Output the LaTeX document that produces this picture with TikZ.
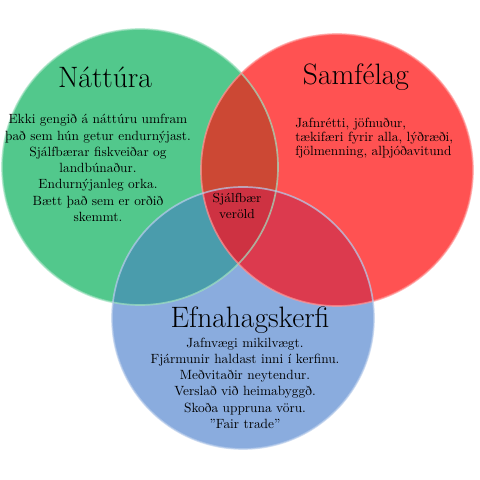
\documentclass[tikz,border=0pt]{standalone}
\usepackage{fontspec}
\usepackage{tikz}
\usetikzlibrary{positioning}

\definecolor{natgreen}{RGB}{82,200,140}
\definecolor{samred}{RGB}{255,82,82}
\definecolor{efnblue}{RGB}{138,172,222}
\definecolor{natsam}{RGB}{204,72,52}
\definecolor{natefn}{RGB}{74,156,172}
\definecolor{samefn}{RGB}{220,58,78}
\definecolor{allthree}{RGB}{206,50,66}

\begin{document}
\begin{tikzpicture}[
    circtitle/.style={font=\fontsize{21}{25}\selectfont, inner sep=0pt},
    circtext/.style={font=\fontsize{9.5}{11.6}\selectfont, align=center, inner sep=0pt},
    rim/.style={line width=1.2pt, draw opacity=0.7}
]
    \useasboundingbox (0,0) rectangle (12,12);

    % circle centres
    \coordinate (natc) at (3.5,7.825);
    \coordinate (samc) at (8.425,7.75);
    \coordinate (efnc) at (6.075,4.05);

    % base discs
    \fill[natgreen] (natc) circle (3.45);
    \fill[samred] (samc) circle (3.4);
    \fill[efnblue] (efnc) circle (3.275);

    % overlaps
    \begin{scope}
        \clip (natc) circle (3.45);
        \fill[natsam] (samc) circle (3.4);
        \fill[natefn] (efnc) circle (3.275);
    \end{scope}
    \begin{scope}
        \clip (samc) circle (3.4);
        \fill[samefn] (efnc) circle (3.275);
    \end{scope}
    \begin{scope}
        \clip (natc) circle (3.45);
        \clip (samc) circle (3.4);
        \fill[allthree] (efnc) circle (3.275);
    \end{scope}

    % rims
    \draw[rim, natgreen!55!white] (natc) circle (3.45);
    \draw[rim, samred!60!white] (samc) circle (3.4);
    \draw[rim, efnblue!60!white] (efnc) circle (3.275);

    % titles
    \node[circtitle] (nattitle) at (2.625,10.075) {Náttúra};
    \node[circtitle] (samtitle) at (8.9,10.075) {Samfélag};
    \node[circtitle] (efntitle) at (6.25,4.0) {Efnahagskerfi};

    % texts
    \node[circtext] (nattext) at (2.45,7.8) {
        Ekki gengið á náttúru umfram \\
        það sem hún getur endurnýjast. \\
        Sjálfbærar fiskveiðar og \\
        landbúnaður. \\
        Endurnýjanleg orka. \\
        Bætt það sem er orðið \\
        skemmt.
    };
    \node[circtext, font=\fontsize{9.5}{9.8}\selectfont, align=left, anchor=west] (samtext) at (7.375,8.55) {
        Jafnrétti, jöfnuður, \\
        tækifæri fyrir alla, lýðræði, \\
        fjölmenning, alþjóðavitund
    };
    \node[circtext, font=\fontsize{9.3}{11.6}\selectfont] (midtext) at (5.925,6.85) {
        Sjálfbær \\
        veröld
    };
    \node[circtext] (efntext) at (6.125,2.42) {
        Jafnvægi mikilvægt. \\
        Fjármunir haldast inni í kerfinu. \\
        Meðvitaðir neytendur. \\
        Verslað við heimabyggð. \\
        Skoða uppruna vöru. \\
        \char34 Fair trade\char34
    };
\end{tikzpicture}
\end{document}
